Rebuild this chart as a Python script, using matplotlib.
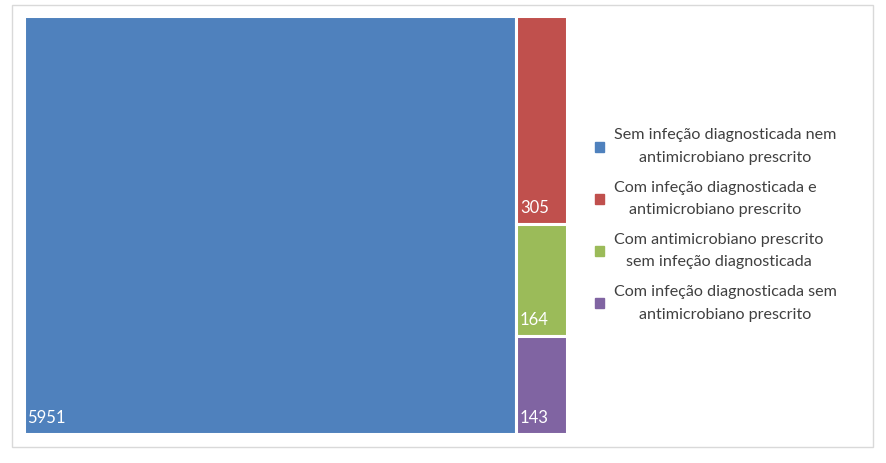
import matplotlib
matplotlib.use("Agg")
import matplotlib.pyplot as plt
from matplotlib.patches import Rectangle

categories = [
    "Sem infeção diagnosticada nem\nantimicrobiano prescrito",
    "Com infeção diagnosticada e\nantimicrobiano prescrito",
    "Com antimicrobiano prescrito\nsem infeção diagnosticada",
    "Com infeção diagnosticada sem\nantimicrobiano prescrito",
]
values = [5951, 305, 164, 143]
colors = ["#4F81BD", "#C0504D", "#9BBB59", "#8064A2"]

plt.rcParams['font.family'] = ['Lato', 'DejaVu Sans']

W, H = 886, 463
fig = plt.figure(figsize=(W / 100, H / 100), dpi=100)

# outer frame
fig.patches.append(Rectangle((12 / W, 1 - 447 / H), (873 - 12) / W, (447 - 5) / H,
                             transform=fig.transFigure, fill=False,
                             edgecolor="#d9d9d9", linewidth=1))

ax = fig.add_axes([24 / W, 1 - 434 / H, 543 / W, 418 / H])
ax.set_xlim(0, 1)
ax.set_ylim(0, 1)
ax.axis("off")

total = sum(values)
w0 = values[0] / total
rects = [(0, 0, w0, 1)]
rest = sum(values[1:])
top = 1.0
for v in values[1:]:
    h = v / rest
    rects.append((w0, top - h, 1 - w0, h))
    top -= h

handles = []
for (x, y, w, h), v, c, lab in zip(rects, values, colors, categories):
    ax.add_patch(Rectangle((x, y), w, h, facecolor=c, edgecolor="white", linewidth=2.2))
    ax.annotate(str(v), xy=(x, y), xytext=(2.5, 6), textcoords="offset points",
                color="white", fontsize=12, ha="left", va="bottom")
    handles.append(Rectangle((0, 0), 1, 1, facecolor=c, edgecolor=c, label=lab))

leg = fig.legend(handles=handles, loc="center left", bbox_to_anchor=(580 / W, 1 - 225 / H),
                 frameon=False, fontsize=11.6, handlelength=0.6, handleheight=0.6,
                 handletextpad=0.6, labelspacing=0.95, labelcolor="#404040")
for t in leg.get_texts():
    t.set_multialignment("center")
    t.set_linespacing(1.8)

fig.savefig("out.png", dpi=100)
